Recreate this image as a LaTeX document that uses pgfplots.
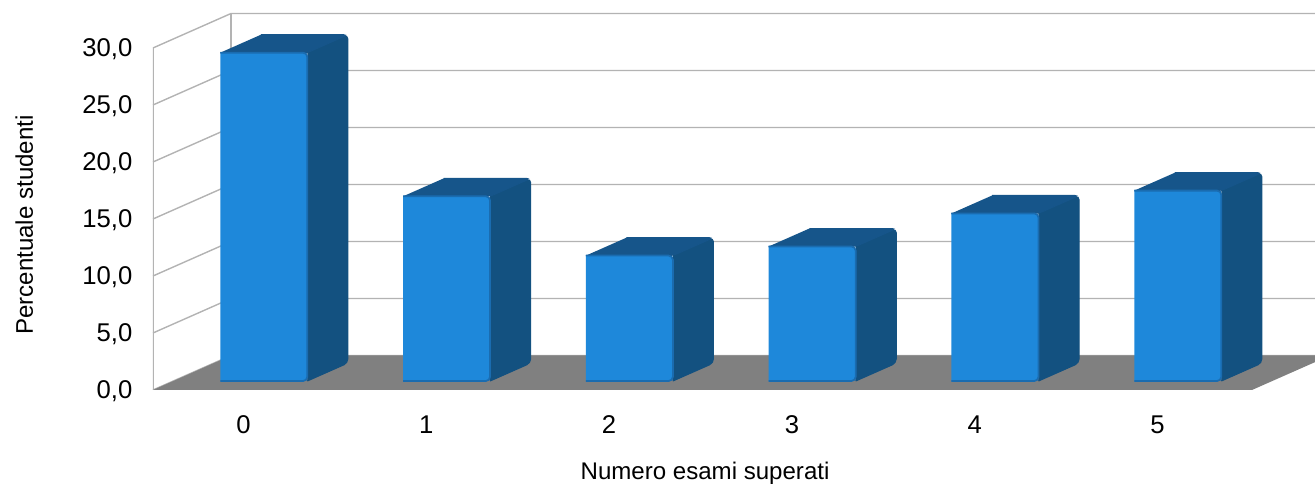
\documentclass[border=0pt]{standalone}
\usepackage{pgfplots}
\pgfplotsset{compat=1.18}
\usepackage{pgfplotstable}
\usepackage{fontspec}
\setmainfont{Liberation Sans}

\definecolor{barfront}{HTML}{1E88DA}
\definecolor{baredge}{HTML}{1A6CB0}
\definecolor{bartop}{HTML}{16558A}
\definecolor{barside}{HTML}{135180}
\definecolor{floorc}{HTML}{808080}
\definecolor{gridc}{HTML}{B3B3B3}

% data: percentage of students per number of passed exams
\pgfplotstableread{
x v
0 28.8
1 16.2
2 11.0
3 11.8
4 14.7
5 16.7
}\datatable

% bar face templates (dx, dy offsets; h = 1 -> add bar value)
\pgfplotstableread{
dx dy h
-0.127 0.787 0
0.349 0.787 0
0.349 0.787 1
-0.127 0.787 1
}\frontface
\pgfplotstableread{
dx dy h
-0.127 0.787 1
0.349 0.787 1
0.571 2.36 1
0.095 2.36 1
}\topface
\pgfplotstableread{
dx dy h
0.349 0.787 0
0.571 2.36 0
0.571 2.36 1
0.349 0.787 1
}\sideface
\pgfplotstableread{
x y
-0.495 0
5.517 0
5.944 3.026
-0.068 3.026
}\floortable
\pgfplotstableread{
x dy
-0.495 0
-0.068 3.026
6.2 3.026
}\gridtemplate

\begin{document}
\begin{tikzpicture}
\useasboundingbox (-15.3mm,-9.6mm) rectangle (116.2mm,39.0mm);
\begin{axis}[
  at={(0,0)}, anchor=south west,
  scale only axis, width=116.2mm, height=37.848mm,
  xmin=-0.495, xmax=5.8616, ymin=0, ymax=33.2,
  axis line style={draw=none},
  major tick length=0pt,
  xtick={0,1,2,3,4,5},
  ytick={0,5,10,15,20,25,30},
  /pgf/number format/assume math mode=true,
  ticklabel style={font=\fontsize{7.3}{8}\selectfont, inner sep=0pt},
  yticklabel style={anchor=base east, xshift=-2.0mm, yshift=-0.9mm,
    /pgf/number format/fixed, /pgf/number format/fixed zerofill,
    /pgf/number format/precision=1, /pgf/number format/use comma},
  xticklabel style={anchor=base, yshift=-4.4mm},
  xlabel={Numero esami superati},
  ylabel={Percentuale studenti},
  every axis x label/.style={at={([yshift=-9.0mm]axis cs:2.525,0)}, anchor=base, font=\fontsize{6.85}{8}\selectfont},
  every axis y label/.style={at={([xshift=-12.0mm]axis cs:-0.495,14.47)}, anchor=base, rotate=90, font=\fontsize{6.85}{8}\selectfont},
]
% gridlines on side and back wall
\pgfplotsinvokeforeach{0,5,10,15,20,25,30}{
  \addplot[gridc, line width=0.4pt] table[x=x, y expr=\thisrow{dy}+#1] {\gridtemplate};
}
\addplot[gridc, line width=0.4pt] coordinates {(-0.495,0) (-0.495,30)};
\addplot[gridc, line width=0.4pt] coordinates {(-0.068,3.026) (-0.068,33.026)};
% floor
\addplot[fill=floorc, draw=none] table[x=x, y=y] {\floortable};
% bars
\pgfplotsinvokeforeach{0,1,2,3,4,5}{
  \pgfplotstablegetelem{#1}{v}\of\datatable
  \let\barv\pgfplotsretval
  \addplot[fill=barside, draw=barside, line width=0.3pt, rounded corners=1.2pt]
    table[x expr=#1+\thisrow{dx}, y expr=\thisrow{dy}+\thisrow{h}*\barv] {\sideface};
  \addplot[fill=bartop, draw=bartop, line width=0.3pt, rounded corners=1.2pt]
    table[x expr=#1+\thisrow{dx}, y expr=\thisrow{dy}+\thisrow{h}*\barv] {\topface};
  \addplot[fill=barfront, draw=baredge, line width=0.5pt, rounded corners=1.2pt]
    table[x expr=#1+\thisrow{dx}, y expr=\thisrow{dy}+\thisrow{h}*\barv] {\frontface};
}
\end{axis}
\end{tikzpicture}
\end{document}
